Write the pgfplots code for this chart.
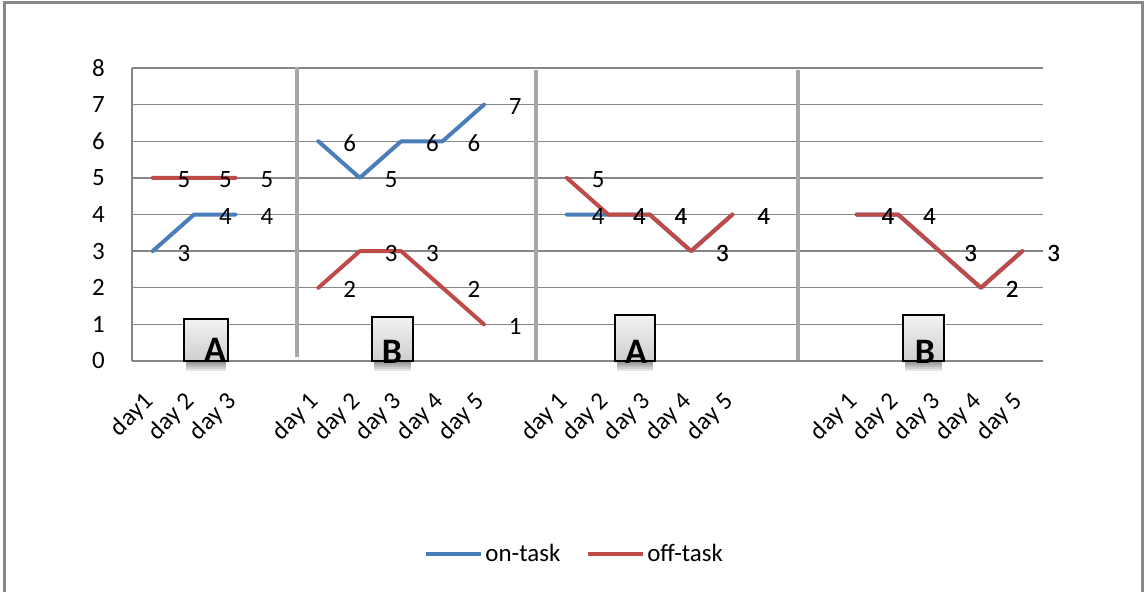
\documentclass[border=0pt]{standalone}
\usepackage{fontspec}
\setmainfont{Carlito}
\usepackage{pgfplots}
\pgfplotsset{compat=1.18}
\definecolor{ontask}{HTML}{4A7EBB}
\definecolor{offtask}{HTML}{BE4B48}
\definecolor{gridgray}{HTML}{868686}
\definecolor{sepgray}{HTML}{A6A6A6}
\definecolor{framegray}{HTML}{878787}
\newcommand{\lbl}{\fontsize{25}{28}\selectfont}
\begin{document}
\begin{tikzpicture}
\useasboundingbox (-132bp,-231bp) rectangle (1012bp,361bp);
\draw[framegray, line width=3bp] (-127.5bp,-233bp) rectangle (1010.5bp,358bp);
\begin{axis}[
  scale only axis,
  width=911bp, height=293bp,
  xmin=-0.5, xmax=21.5,
  ymin=0, ymax=8,
  ytick={0,...,8},
  xtick={0,1,2,4,5,6,7,8,10,11,12,13,14,17,18,19,20,21},
  xticklabels={day1,day 2,day 3,day 1,day 2,day 3,day 4,day 5,day 1,day 2,day 3,day 4,day 5,day 1,day 2,day 3,day 4,day 5},
  /pgf/number format/assume math mode=true,
  tick style={draw=none},
  ymajorgrids,
  grid style={gridgray, line width=1.3bp},
  axis x line=bottom, axis y line=left,
  axis line style={gridgray, line width=1.3bp, -},
  ticklabel style={font=\lbl, text=black},
  yticklabel style={anchor=east, inner sep=0pt, xshift=-25bp},
  xticklabel style={xshift=-3bp, yshift=-35bp, rotate=45, anchor=east, inner sep=0pt},
  clip=false,
  unbounded coords=jump,
  every axis plot/.append style={line width=4bp, line cap=round, line join=round},
  nodes near coords,
  point meta=y,
  every node near coord/.append style={font=\lbl, text=black, anchor=west, inner sep=0pt, xshift=23bp, yshift=-2bp},
  legend columns=2,
  legend style={at={(0.486,-0.658)}, anchor=center, draw=none, fill=none, font=\lbl,
    cells={anchor=west}, nodes={inner sep=2bp},
    /tikz/every even column/.append style={column sep=24bp}},
  legend image code/.code={\draw[#1, line width=4bp, line cap=butt] (0bp,0bp) -- (55bp,0bp);},
]
% vertical separators between phases
\draw[sepgray, line width=4bp] (axis cs:3.485,8.03) -- (axis cs:3.485,0.11);
\draw[sepgray, line width=4bp] (axis cs:9.256,7.95) -- (axis cs:9.256,0.03);
\draw[sepgray, line width=4bp] (axis cs:15.58,7.95) -- (axis cs:15.58,0.03);

\addplot[ontask] coordinates {
(0,3) (1,4) (2,4) (3,nan)
(4,6) (5,5) (6,6) (7,6) (8,7) (9,nan)
(10,4) (11,4) (12,4) (13,3) (14,4) (15,nan)
(17,4) (18,4) (19,3) (20,2) (21,3)
};
\addlegendentry{on-task}
\addplot[offtask] coordinates {
(0,5) (1,5) (2,5) (3,nan)
(4,2) (5,3) (6,3) (7,2) (8,1) (9,nan)
(10,5) (11,4) (12,4) (13,3) (14,4) (15,nan)
(17,4) (18,4) (19,3) (20,2) (21,3)
};
\addlegendentry{off-task}
\end{axis}
% phase boxes
\foreach \xa/\xb/\yt/\cx/\by/\t in {52/96/42/83/0/A, 240/281/44/260/-2/B, 483/523/46/504/-2/A, 771/812/46/793/-2/B}{
  \foreach \d in {2,4,6,8,10}{
    \fill[black, opacity=0.1] (\xa bp+2bp,0bp) rectangle (\xb bp-2bp,-\d bp);
  }
  \shade[top color=gray!10, bottom color=gray!38] (\xa bp,0bp) rectangle (\xb bp,\yt bp);
  \draw[black, line width=2.5bp] (\xa bp,0bp) rectangle (\xb bp,\yt bp);
  \node[font=\fontsize{36}{36}\selectfont\bfseries, anchor=base, inner sep=0pt] at (\cx bp,\by bp) {\t};
}
\end{tikzpicture}
\end{document}
